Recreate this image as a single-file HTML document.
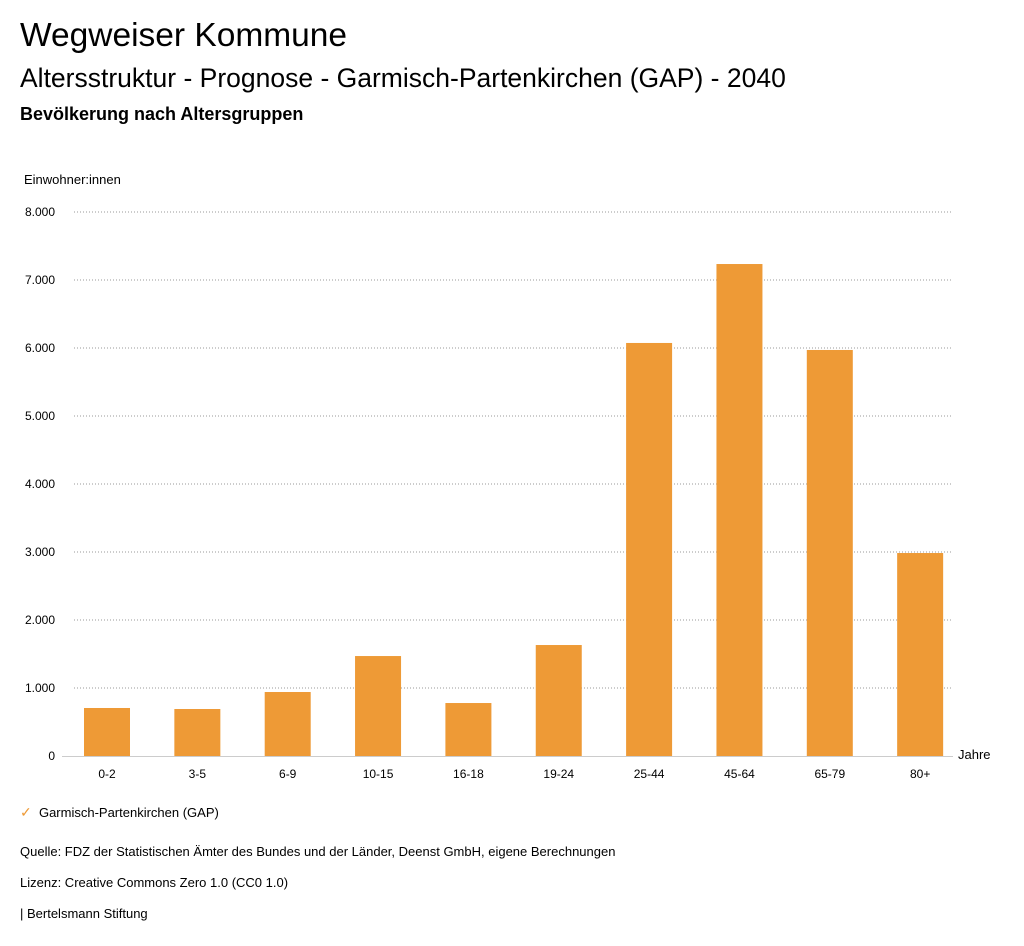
<!DOCTYPE html>
<html><head><meta charset="utf-8"><style>
body{margin:0;background:#fff;font-family:"Liberation Sans",sans-serif;color:#000}
#wrap{position:relative;width:1024px;height:946px;overflow:hidden}
.t{position:absolute;white-space:nowrap}
</style></head><body><div id="wrap">
<div class="t" style="left:20px;top:17px;font-size:33.5px">Wegweiser Kommune</div>
<div class="t" style="left:20px;top:63px;font-size:26.5px">Altersstruktur - Prognose - Garmisch-Partenkirchen (GAP) - 2040</div>
<div class="t" style="left:20px;top:104px;font-size:18px;font-weight:bold">Bevölkerung nach Altersgruppen</div>
<svg id="chart" width="1024" height="800" style="position:absolute;left:0;top:0">
<text x="24" y="184" font-size="13" font-family="Liberation Sans, sans-serif">Einwohner:innen</text>
<text x="958" y="759" font-size="13" font-family="Liberation Sans, sans-serif">Jahre</text>
</svg>
<div class="t" style="left:20px;top:804px;font-size:13px"><span style="color:#ee9a36;font-size:14px">✓</span>&nbsp;&nbsp;Garmisch-Partenkirchen (GAP)</div>
<div class="t" style="left:20px;top:844px;font-size:13px">Quelle: FDZ der Statistischen Ämter des Bundes und der Länder, Deenst GmbH, eigene Berechnungen</div>
<div class="t" style="left:20px;top:875px;font-size:13px">Lizenz: Creative Commons Zero 1.0 (CC0 1.0)</div>
<div class="t" style="left:20px;top:906px;font-size:13px">| Bertelsmann Stiftung</div>
</div>
<script>
const categories=["0-2","3-5","6-9","10-15","16-18","19-24","25-44","45-64","65-79","80+"];
const values=[706,691,941,1470,779,1632,6074,7235,5971,2985];
const yTicks=[0,1000,2000,3000,4000,5000,6000,7000,8000];
const yTickLabels=["0","1.000","2.000","3.000","4.000","5.000","6.000","7.000","8.000"];
const svg=document.getElementById('chart');const NS='http://www.w3.org/2000/svg';
const y=v=>756-v*0.068;
const x=i=>107+i*90.35;
function mk(t,a){const e=document.createElementNS(NS,t);for(const k in a)e.setAttribute(k,a[k]);svg.appendChild(e);return e;}
yTicks.forEach((v,i)=>{
 if(v>0){const l=mk('line',{x1:74,x2:953,y1:y(v),y2:y(v),stroke:'#999','stroke-dasharray':'1,2','stroke-width':1});
 
 }
 const t=mk('text',{x:55,y:y(v)+4,'font-size':12,'text-anchor':'end','font-family':'Liberation Sans, sans-serif'});
 t.textContent=yTickLabels[i];
 
 
});
const base=mk('line',{x1:62,x2:953,y1:756.5,y2:756.5,stroke:'#ccc','stroke-width':1});


categories.forEach((c,i)=>{
 const r=mk('rect',{x:x(i)-23,y:y(values[i]),width:46,height:756-y(values[i]),fill:'#ee9a36'});
 
 
 const t=mk('text',{x:x(i),y:778,'font-size':12,'text-anchor':'middle','font-family':'Liberation Sans, sans-serif'});
 t.textContent=c;
 
 
});
</script></body></html>
